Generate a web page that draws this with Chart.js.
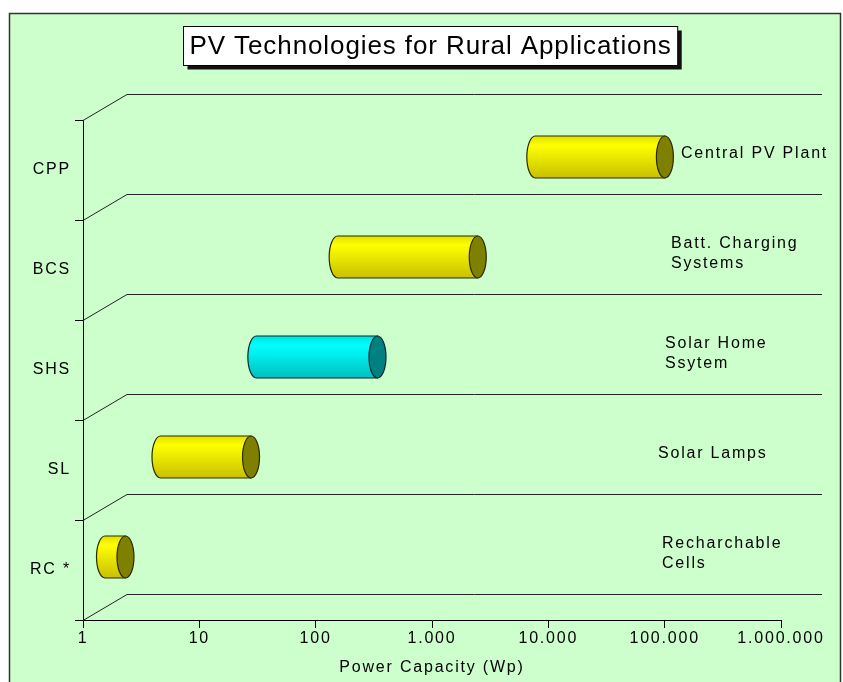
<!DOCTYPE html>
<html>
<head>
<meta charset="utf-8">
<script src="https://cdn.jsdelivr.net/npm/chart.js@4.4.0/dist/chart.umd.min.js"></script>
<style>
  html, body { margin: 0; padding: 0; background: #fff; }
  #wrap { width: 843px; height: 682px; }
</style>
</head>
<body>
<div id="wrap"><canvas id="chart"></canvas></div>
<script>
// ---- data ----
const categories = ['CPP', 'BCS', 'SHS', 'SL', 'RC *'];
const rangeLow  = [5000, 100, 20, 3, 1];
const rangeHigh = [65000, 1600, 220, 18, 1.5];
const notes = [
  ['Central PV Plant'],
  ['Batt. Charging', 'Systems'],
  ['Solar Home', 'Ssytem'],
  ['Solar Lamps'],
  ['Recharchable', 'Cells']
];
const xTicks = [1, 10, 100, 1000, 10000, 100000, 1000000];
const chartTitle = 'PV Technologies for Rural Applications';
const xTitle = 'Power Capacity (Wp)';

// ---- styles ----
const FONT = '"Liberation Sans", Arial, sans-serif';
const SPACING = '1.8px';
const BG = '#ccffcc';
const DEPTH = { dx: 44, dy: -26 };
const barColors = ['yellow', 'yellow', 'cyan', 'yellow', 'yellow'];
const PAL = {
  yellow: { edge: '#e0e000', hi: '#ffff00', lo: '#c8c000', cap: '#808000', line: '#2a2a00' },
  cyan:   { edge: '#00e0e0', hi: '#00ffff', lo: '#00c0c0', cap: '#008080', line: '#002a2a' }
};
const noteX = [681, 671, 665, 658, 662];

function fmt(v) {
  return String(v).replace(/\B(?=(\d{3})+(?!\d))/g, '.');
}

function cylinder(ctx, x1, x2, yc, h, pal) {
  const ry = h / 2, rx = 8.5;
  const top = yc - ry, bot = yc + ry;
  const g = ctx.createLinearGradient(0, top, 0, bot);
  g.addColorStop(0, pal.edge);
  g.addColorStop(0.22, pal.hi);
  g.addColorStop(1, pal.lo);
  ctx.lineWidth = 1.2;
  ctx.strokeStyle = pal.line;
  ctx.beginPath();
  ctx.moveTo(x2, top);
  ctx.lineTo(x1, top);
  ctx.ellipse(x1, yc, rx, ry, 0, -Math.PI / 2, Math.PI / 2, true);
  ctx.lineTo(x2, bot);
  ctx.closePath();
  ctx.fillStyle = g;
  ctx.fill();
  ctx.stroke();
  ctx.beginPath();
  ctx.ellipse(x2, yc, rx, ry, 0, 0, Math.PI * 2);
  ctx.fillStyle = pal.cap;
  ctx.fill();
  ctx.stroke();
}

const scene = {
  id: 'scene',
  beforeDraw(chart) {
    const { ctx, width, height } = chart;
    ctx.save();
    ctx.fillStyle = '#fff';
    ctx.fillRect(0, 0, width, height);
    ctx.fillStyle = BG;
    ctx.fillRect(9, 13, width - 11, height);
    ctx.strokeStyle = '#333';
    ctx.lineWidth = 1.5;
    ctx.strokeRect(9.5, 13.5, width - 12, height + 10);

    // title box
    ctx.font = '26px ' + FONT;
    ctx.letterSpacing = '0.9px';
    const tw = ctx.measureText(chartTitle).width;
    const bw = tw + 12, bh = 39;
    const bx = Math.round(430 - bw / 2) + 0.5, by = 26.5;
    ctx.fillStyle = '#111';
    ctx.fillRect(bx + 4, by + 4, bw, bh);
    ctx.fillStyle = '#fff';
    ctx.fillRect(bx, by, bw, bh);
    ctx.strokeStyle = '#000';
    ctx.lineWidth = 1;
    ctx.strokeRect(bx, by, bw, bh);
    ctx.fillStyle = '#000';
    ctx.textAlign = 'left';
    ctx.textBaseline = 'middle';
    ctx.fillText(chartTitle, bx + 6, by + bh / 2 + 1);
    ctx.restore();
    // wide, spaced lettering for the rest of the chart text
    ctx.letterSpacing = SPACING;
  },
  beforeDatasetsDraw(chart) {
    const { ctx, chartArea: a } = chart;
    const n = categories.length, step = a.height / n;
    ctx.save();
    ctx.strokeStyle = '#222';
    ctx.lineWidth = 1;
    for (let i = 0; i <= n; i++) {
      const y = Math.round(a.top + i * step) + 0.5;
      ctx.beginPath();
      ctx.moveTo(a.left, y);
      ctx.lineTo(a.left + DEPTH.dx, y + DEPTH.dy);
      ctx.lineTo(a.right + DEPTH.dx - 3, y + DEPTH.dy);
      ctx.stroke();
    }
    ctx.restore();
  },
  afterDatasetsDraw(chart) {
    const { ctx } = chart;
    const meta = chart.getDatasetMeta(0);
    ctx.save();
    meta.data.forEach((bar, i) => {
      const x1 = Math.min(bar.base, bar.x) + DEPTH.dx / 2;
      const x2 = Math.max(bar.base, bar.x) + DEPTH.dx / 2;
      const yc = bar.y + DEPTH.dy / 2;
      cylinder(ctx, x1, x2, yc, bar.height, PAL[barColors[i]]);

      // side notes
      ctx.fillStyle = '#000';
      ctx.font = '16px ' + FONT;
      ctx.letterSpacing = SPACING;
      ctx.textAlign = 'left';
      ctx.textBaseline = 'middle';
      const lines = notes[i];
      const y0 = yc - 3 - (lines.length - 1) * 10;
      lines.forEach((t, k) => ctx.fillText(t, noteX[i], y0 + k * 20));
    });
    ctx.restore();
  }
};

new Chart(document.getElementById('chart'), {
  type: 'bar',
  data: {
    labels: categories,
    datasets: [{
      data: categories.map((c, i) => [rangeLow[i], rangeHigh[i]]),
      backgroundColor: 'rgba(0,0,0,0)',
      borderWidth: 0,
      categoryPercentage: 1,
      barPercentage: 0.42
    }]
  },
  options: {
    indexAxis: 'y',
    responsive: true,
    maintainAspectRatio: false,
    animation: false,
    layout: { padding: { top: 120, right: 62, left: 0, bottom: 0 } },
    plugins: {
      legend: { display: false },
      tooltip: { enabled: false },
      title: { display: false }
    },
    scales: {
      x: {
        type: 'logarithmic',
        min: 1,
        max: 1000000,
        afterBuildTicks: s => { s.ticks = xTicks.map(v => ({ value: v })); },
        afterFit: s => { s.height = 62; },
        ticks: {
          callback: v => fmt(v),
          color: '#000',
          font: { family: FONT, size: 16 },
          maxRotation: 0,
          autoSkip: false,
          padding: 1
        },
        grid: { drawOnChartArea: false, color: '#000', tickLength: 8 },
        border: { color: '#000', width: 1 },
        title: {
          display: true,
          text: xTitle,
          color: '#000',
          font: { family: FONT, size: 16 },
          padding: { top: 0, bottom: 5 }
        }
      },
      y: {
        afterFit: s => { s.width = 83; },
        ticks: {
          color: '#000',
          font: { family: FONT, size: 16 },
          padding: 4
        },
        grid: { drawOnChartArea: false, color: '#000', tickLength: 8, offset: true },
        border: { color: '#000', width: 1 }
      }
    }
  },
  plugins: [scene]
});
</script>
</body>
</html>
